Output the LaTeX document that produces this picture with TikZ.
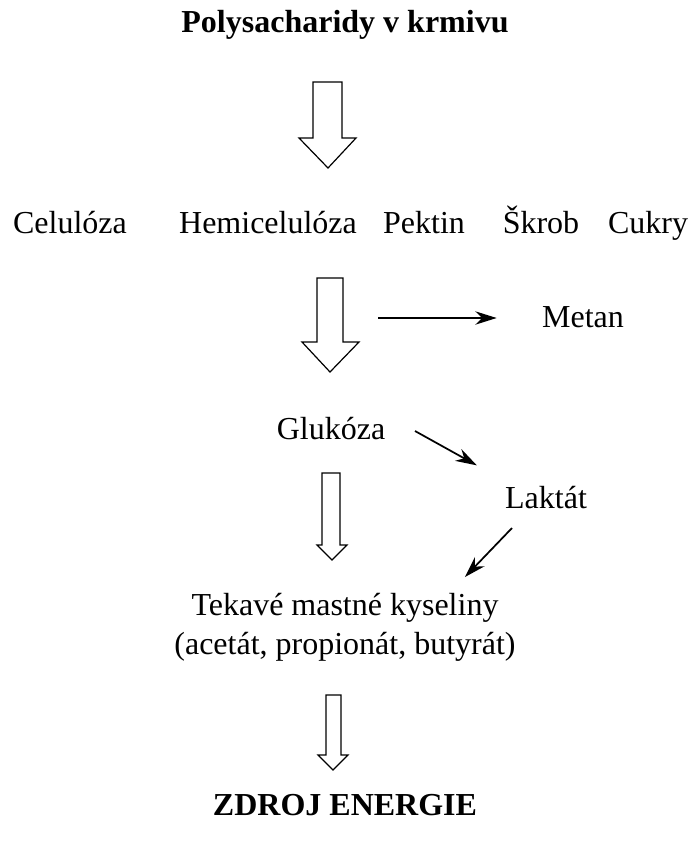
\documentclass[tikz,border=0pt]{standalone}
\usepackage{fontspec}
\setmainfont{Liberation Serif}
\usetikzlibrary{arrows.meta}
\begin{document}
\begin{tikzpicture}[x=0.75pt,y=-0.75pt,
  lbl/.style={inner sep=0pt,font=\fontsize{24}{29}\selectfont},
  row/.style={lbl,anchor=base},
  ttl/.style={lbl,font=\fontsize{24}{29}\selectfont\bfseries},
  thin/.style={line width=1.3pt,-{Stealth[length=16pt,width=10pt]},shorten >=1pt},
  hollow/.style={draw=black,line width=0.9pt,fill=white,line join=miter}]
\useasboundingbox[fill=white] (0,0) rectangle (690,843);
% texts
\node[ttl] (top) at (345,25) {Polysacharidy v krmivu};
\node[row] (cel) at (70,233) {Celulóza};
\node[row] (hem) at (268,233) {Hemicelulóza};
\node[row] (pek) at (424,233) {Pektin};
\node[row] (skr) at (541,233) {Škrob};
\node[row] (cuk) at (648,233) {Cukry};
\node[row] (met) at (583,327) {Metan};
\node[row] (glu) at (331,439) {Glukóza};
\node[row] (lak) at (546,508) {Laktát};
\node[lbl,align=center] (tek) at (345,627) {Tekavé mastné kyseliny\\(acetát, propionát, butyrát)};
\node[ttl] (zdr) at (345,805) {ZDROJ ENERGIE};
% free ends of thin arrows
\coordinate (m0) at (378,318);
\coordinate (m1) at (498,318);
\coordinate (g0) at (415,431);
\coordinate (g1) at (478,466);
\coordinate (l0) at (512,528);
\coordinate (l1) at (464,578);
\draw[thin] (m0) -- (m1);
\draw[thin] (g0) -- (g1);
\draw[thin] (l0) -- (l1);
% hollow block arrows
\draw[hollow] (313,82) -- (342,82) -- (342,138) -- (356,138) -- (328,168) -- (299,138) -- (313,138) -- cycle;
\draw[hollow] (317,278) -- (343,278) -- (343,342) -- (359,342) -- (330,372) -- (302,342) -- (317,342) -- cycle;
\draw[hollow] (322,473) -- (340,473) -- (340,545) -- (347,545) -- (332,560) -- (317,545) -- (322,545) -- cycle;
\draw[hollow] (326,695) -- (341,695) -- (341,755) -- (348,755) -- (333,770) -- (318,755) -- (326,755) -- cycle;
\end{tikzpicture}
\end{document}
